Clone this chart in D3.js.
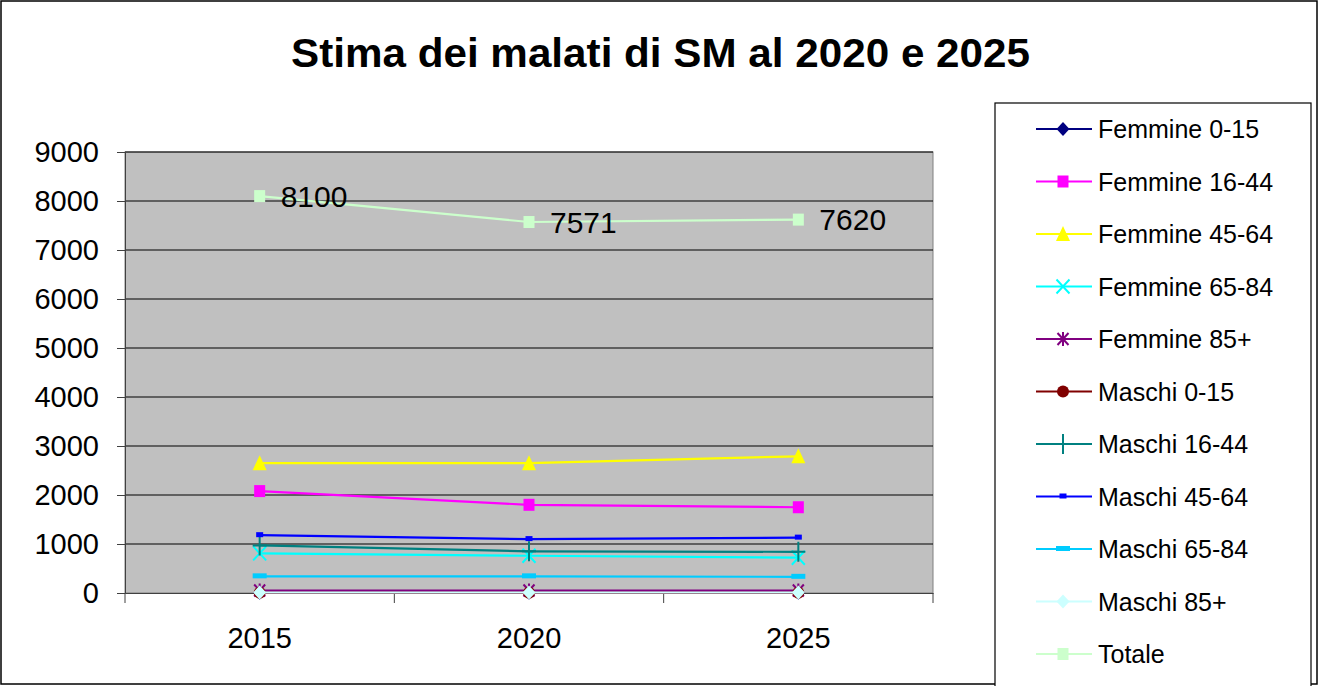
<!DOCTYPE html>
<html lang="it">
<head>
<meta charset="UTF-8">
<title>Stima dei malati di SM</title>
<script src="https://cdnjs.cloudflare.com/ajax/libs/d3/7.8.5/d3.min.js"></script>
<style>
    body { margin: 0; background: #fff; }
    svg { display: block; font-family: Arial, "Liberation Sans", sans-serif; }
</style>
</head>
<body>
<div id="chart"></div>
<script>
// chart data
const years = ["2015", "2020", "2025"];
const seriesNames = ["Femmine 0-15", "Femmine 16-44", "Femmine 45-64", "Femmine 65-84", "Femmine 85+",
    "Maschi 0-15", "Maschi 16-44", "Maschi 45-64", "Maschi 65-84", "Maschi 85+", "Totale"];
const femmine0_15 = [5, 5, 5];
const femmine16_44 = [2080, 1800, 1750];
const femmine45_64 = [2650, 2650, 2790];
const femmine65_84 = [810, 760, 720];
const femmine85 = [50, 50, 50];
const maschi0_15 = [5, 5, 5];
const maschi16_44 = [970, 850, 840];
const maschi45_64 = [1180, 1100, 1130];
const maschi65_84 = [340, 340, 330];
const maschi85 = [10, 10, 10];
const totale = [8100, 7571, 7620];
const yTicks = [0, 1000, 2000, 3000, 4000, 5000, 6000, 7000, 8000, 9000];

const seriesValues = [femmine0_15, femmine16_44, femmine45_64, femmine65_84, femmine85,
    maschi0_15, maschi16_44, maschi45_64, maschi65_84, maschi85, totale];
const colors = ["#000080", "#FF00FF", "#FFFF00", "#00FFFF", "#800080",
    "#800000", "#008080", "#0000FF", "#00CCFF", "#CCFFFF", "#CCFFCC"];
const markers = ["diamond", "square", "triangle", "cross", "star",
    "circle", "plus", "dash", "longdash", "diamond", "square"];

const width = 1319, height = 686;
const margin = { left: 125, right: 386, top: 152, bottom: 93 };

const svg = d3.select("#chart").append("svg")
    .attr("width", width)
    .attr("height", height);

// outer border
svg.append("rect")
    .attr("x", 1).attr("y", 1)
    .attr("width", width - 3).attr("height", height - 3)
    .attr("fill", "#fff").attr("stroke", "#000").attr("stroke-width", 1.5);

// title
svg.append("text")
    .attr("x", 291).attr("y", 67)
    .attr("font-size", 40).attr("font-weight", "bold")
    .attr("textLength", 739).attr("lengthAdjust", "spacingAndGlyphs")
    .text("Stima dei malati di SM al 2020 e 2025");

const x = d3.scaleBand()
    .domain(years)
    .range([margin.left, width - margin.right]);

const y = d3.scaleLinear()
    .domain([0, 9000])
    .range([height - margin.bottom, margin.top]);

// plot area
svg.append("rect")
    .attr("x", margin.left).attr("y", margin.top)
    .attr("width", x.range()[1] - margin.left)
    .attr("height", y(0) - margin.top)
    .attr("fill", "#C0C0C0")
    .attr("stroke", "#808080");

// gridlines
svg.append("g")
    .selectAll("line")
    .data(yTicks.filter(d => d > 0))
    .enter().append("line")
    .attr("x1", margin.left).attr("x2", x.range()[1])
    .attr("y1", d => y(d)).attr("y2", d => y(d))
    .attr("stroke", "#000").attr("stroke-width", 1.2);

// y axis
const yAxis = svg.append("g")
    .attr("transform", `translate(${margin.left},0)`)
    .call(d3.axisLeft(y).tickValues(yTicks).tickFormat(d3.format("d")).tickSize(8).tickPadding(18));
yAxis.select(".domain").attr("stroke", "#404040");
yAxis.selectAll(".tick line").attr("stroke", "#404040");
yAxis.selectAll("text").attr("font-size", 29).attr("fill", "#000")
    .attr("font-family", "Arial, 'Liberation Sans', sans-serif");

// x axis (ticks between categories)
const xAxis = svg.append("g")
    .attr("transform", `translate(0,${y(0)})`)
    .call(d3.axisBottom(x).tickSize(0).tickPadding(34));
xAxis.select(".domain").attr("stroke", "#404040");
xAxis.selectAll("text").attr("font-size", 29).attr("fill", "#000")
    .attr("font-family", "Arial, 'Liberation Sans', sans-serif");
const bounds = years.map(d => x(d)).concat([x.range()[1]]);
xAxis.selectAll(".bound")
    .data(bounds)
    .enter().append("line")
    .attr("class", "bound")
    .attr("x1", d => d).attr("x2", d => d)
    .attr("y1", 0).attr("y2", 10)
    .attr("stroke", "#404040");

// marker drawing
function drawMarker(g, type, color) {
    if (type === "diamond") {
        g.append("path").attr("d", "M0,-7L6.5,0L0,7L-6.5,0Z").attr("fill", color);
    } else if (type === "square") {
        g.append("rect").attr("x", -5.5).attr("y", -6).attr("width", 11).attr("height", 12).attr("fill", color);
    } else if (type === "triangle") {
        g.append("path").attr("d", "M0,-8L7,7L-7,7Z").attr("fill", color);
    } else if (type === "cross") {
        g.append("path").attr("d", "M-6.5,-7L6.5,7M-6.5,7L6.5,-7").attr("stroke", color).attr("stroke-width", 2);
    } else if (type === "star") {
        g.append("path").attr("d", "M-5.5,-6L5.5,6M-5.5,6L5.5,-6M0,-7L0,7").attr("stroke", color).attr("stroke-width", 2);
    } else if (type === "circle") {
        g.append("circle").attr("r", 6).attr("fill", color);
    } else if (type === "plus") {
        g.append("path").attr("d", "M-7,0L7,0M0,-10L0,10").attr("stroke", color).attr("stroke-width", 2);
    } else if (type === "dash") {
        g.append("rect").attr("x", -3.5).attr("y", -3).attr("width", 7).attr("height", 5).attr("fill", color);
    } else if (type === "longdash") {
        g.append("rect").attr("x", -7).attr("y", -3).attr("width", 14).attr("height", 5).attr("fill", color);
    }
}

const line = d3.line()
    .x((d, i) => x(years[i]) + x.bandwidth() / 2)
    .y(d => y(d));

// series
seriesValues.forEach((vals, k) => {
    const g = svg.append("g").attr("class", "series");
    g.append("path")
        .datum(vals)
        .attr("d", line)
        .attr("fill", "none")
        .attr("stroke", colors[k])
        .attr("stroke-width", 2.2);
    vals.forEach((v, i) => {
        const m = g.append("g")
            .attr("transform", `translate(${x(years[i]) + x.bandwidth() / 2},${y(v)})`);
        drawMarker(m, markers[k], colors[k]);
    });
});

// data labels for totale
svg.append("g")
    .selectAll("text")
    .data(totale)
    .enter().append("text")
    .attr("x", (d, i) => x(years[i]) + x.bandwidth() / 2 + 21)
    .attr("y", d => y(d))
    .attr("dy", "0.36em")
    .attr("font-size", 30)
    .text(d => d);

// legend
const legend = svg.append("g");
legend.append("rect")
    .attr("x", 995).attr("y", 103)
    .attr("width", 316).attr("height", 590)
    .attr("fill", "#fff").attr("stroke", "#000").attr("stroke-width", 1.2);

seriesNames.forEach((name, k) => {
    const ly = 129 + k * 52.5;
    const item = legend.append("g").attr("transform", `translate(0,${ly})`);
    item.append("line")
        .attr("x1", 1036).attr("x2", 1092)
        .attr("stroke", colors[k]).attr("stroke-width", 2.2);
    const m = item.append("g").attr("transform", "translate(1063,0)");
    drawMarker(m, markers[k], colors[k]);
    item.append("text")
        .attr("x", 1098).attr("dy", "0.36em")
        .attr("font-size", 25)
        .text(name);
});
</script>
</body>
</html>
